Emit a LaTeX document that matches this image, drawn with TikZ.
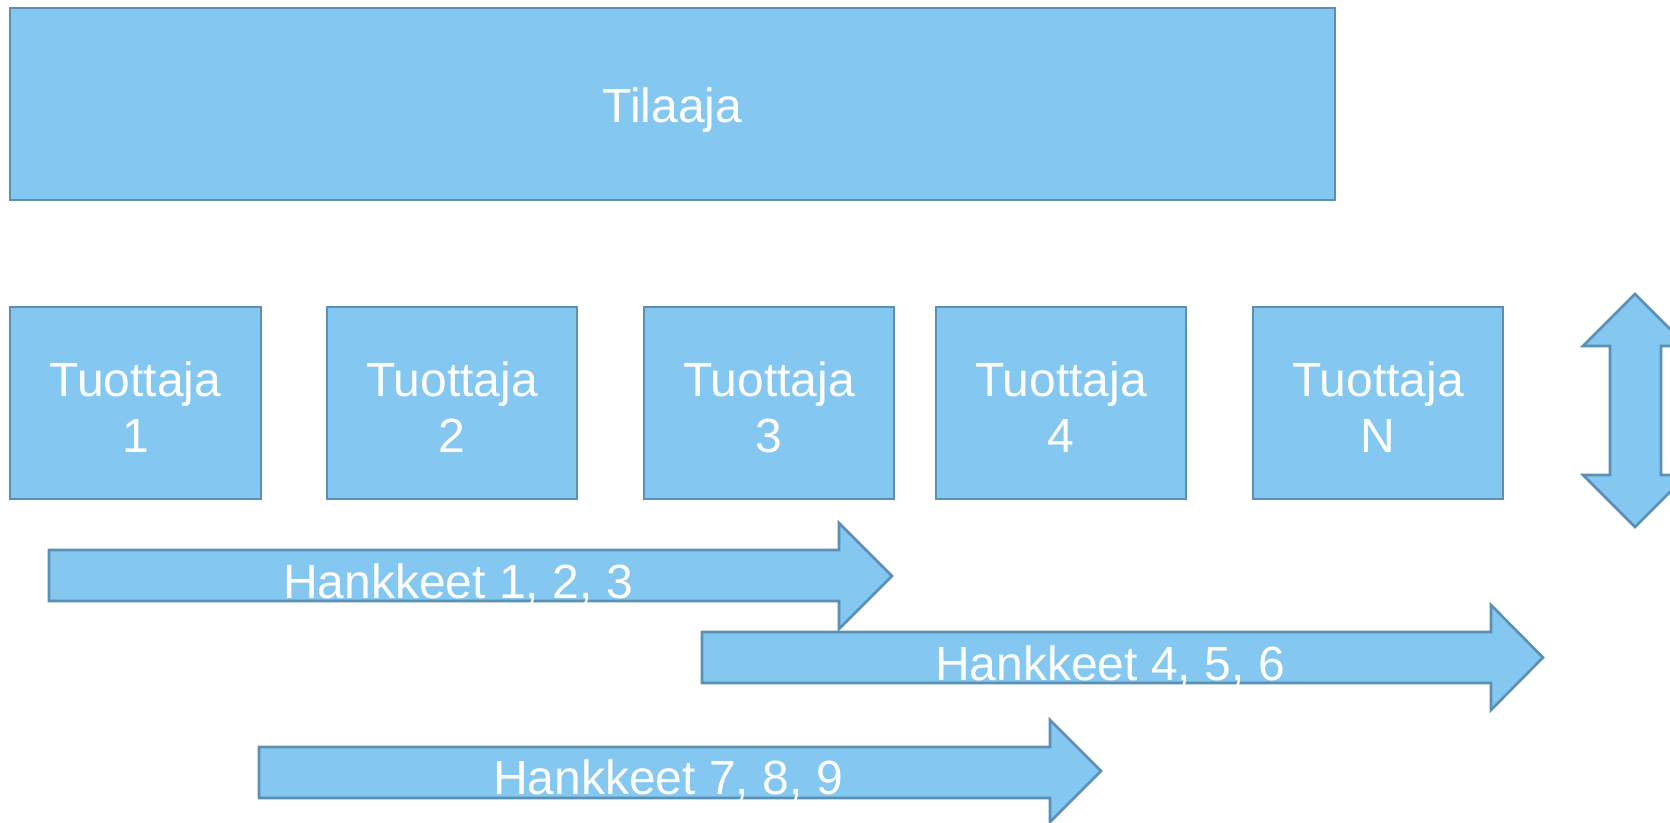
\documentclass[tikz,border=0pt]{standalone}
\usepackage{fontspec}
\setmainfont{Liberation Sans}
\definecolor{boxfill}{HTML}{84C7F1}
\definecolor{boxline}{HTML}{5B90B5}
\tikzset{
  blockshape/.style={fill=boxfill, draw=boxline, line width=2.6pt, line join=miter},
  boxnode/.style={blockshape, rectangle, inner sep=0pt},
  lbl/.style={text=white, font=\fontsize{48}{56}\selectfont, align=center, inner sep=0pt}
}
\begin{document}
\begin{tikzpicture}[x=1pt, y=-1pt]
\useasboundingbox (0,0) rectangle (1670,822);
\clip (0,0) rectangle (1670,822);
% Tilaaja
\node[boxnode, minimum width=1325pt, minimum height=192pt] (tilaaja) at (672.5,104) {};
\node[lbl] (tilaajat) at ([yshift=-6pt]tilaaja.center) {Tilaaja};
% Tuottajat
\node[boxnode, minimum width=251pt, minimum height=192pt] (t1) at (135.5,403) {};
\node[boxnode, minimum width=250pt, minimum height=192pt] (t2) at (452,403) {};
\node[boxnode, minimum width=250pt, minimum height=192pt] (t3) at (769,403) {};
\node[boxnode, minimum width=250pt, minimum height=192pt] (t4) at (1061,403) {};
\node[boxnode, minimum width=250pt, minimum height=192pt] (t5) at (1378,403) {};
\node[lbl] (t1t) at ([yshift=-4pt]t1.center) {Tuottaja\\1};
\node[lbl] (t2t) at ([yshift=-4pt]t2.center) {Tuottaja\\2};
\node[lbl] (t3t) at ([yshift=-4pt]t3.center) {Tuottaja\\3};
\node[lbl] (t4t) at ([yshift=-4pt]t4.center) {Tuottaja\\4};
\node[lbl] (t5t) at ([yshift=-4pt]t5.center) {Tuottaja\\N};
% double arrow (cut at right edge)
\path[blockshape] (1635,294) -- (1687,346) -- (1661,346) -- (1661,475) -- (1687,475)
  -- (1635,527) -- (1583,475) -- (1610,475) -- (1610,346) -- (1583,346) -- cycle;
% Hankkeet arrows
\path[blockshape] (49,550) -- (839,550) -- (839,523) -- (892,576) -- (839,629) -- (839,601) -- (49,601) -- cycle;
\node[lbl] (h1) at (458,584) {Hankkeet 1, 2, 3};
\path[blockshape] (702,632) -- (1491,632) -- (1491,605) -- (1543,657.5) -- (1491,710) -- (1491,683) -- (702,683) -- cycle;
\node[lbl] (h2) at (1110,666) {Hankkeet 4, 5, 6};
\path[blockshape] (259,747) -- (1050,747) -- (1050,720) -- (1101,771) -- (1050,822) -- (1050,798) -- (259,798) -- cycle;
\node[lbl] (h3) at (668,780) {Hankkeet 7, 8, 9};
\end{tikzpicture}
\end{document}
